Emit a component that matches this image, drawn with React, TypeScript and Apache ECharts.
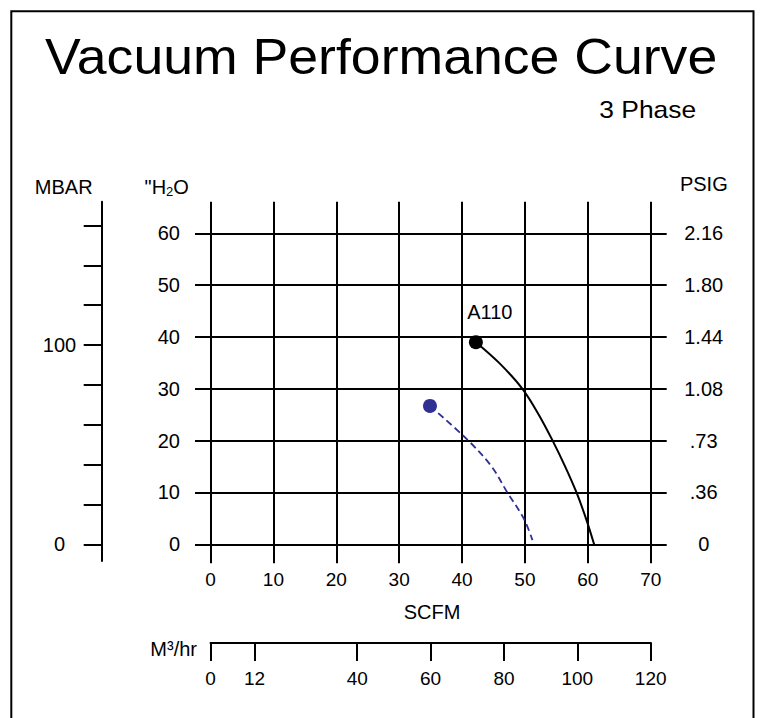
import React, { useEffect, useRef } from 'react';
import * as echarts from 'echarts';

// ---- data ----
const scfmTicks = [0, 10, 20, 30, 40, 50, 60, 70];
const inH2OTicks = [0, 10, 20, 30, 40, 50, 60];
const psigLabels = ['0', '.36', '.73', '1.08', '1.44', '1.80', '2.16'];
const mbarTicks = [0, 20, 40, 60, 80, 100, 120, 140, 160];
const mbarLabels = [0, 100];
const m3hrTicks = [0, 12, 40, 60, 80, 100, 120];

const a110Flow = [42.2, 45.9, 49.6, 52.2, 54.4, 56.4, 58.2, 59.7, 61.0];
const a110Vacuum = [39, 35, 30, 25, 20, 15, 10, 5, 0];
const blueFlow = [34.9, 41.0, 44.7, 47.2, 49.8, 51.2];
const blueVacuum = [26.7, 20, 15, 10, 5, 0.8];
const curveName = 'A110';

// ---- layout / style ----
const W = 767;
const H = 718;
const BLACK = '#000000';
const BLUE = '#2e3192';
const FONT = '"Liberation Sans", Arial, Helvetica, sans-serif';
const MBAR_MIN = -8.4;
const MBAR_MAX = 171.9;

const pairs = (xs: number[], ys: number[]) => xs.map((x, i) => [x, ys[i]]);

const lineStyle = { color: BLACK, width: 2 };

const option: any = {
  animation: false,
  backgroundColor: '#ffffff',
  textStyle: { fontFamily: FONT, color: BLACK },
  grid: [
    { left: 210.5, top: 233.3, width: 440.2, height: 311, containLabel: false },
    { left: 101.7, top: 201.7, width: 1, height: 359.3, containLabel: false },
    { left: 210.5, top: 641.5, width: 440.2, height: 1, containLabel: false },
  ],
  xAxis: [
    {
      type: 'value', gridIndex: 0, position: 'bottom',
      min: scfmTicks[0], max: scfmTicks[scfmTicks.length - 1], interval: scfmTicks[1] - scfmTicks[0],
      axisLine: { show: true, onZero: false, lineStyle },
      axisTick: { show: true, length: 19, lineStyle },
      axisLabel: { show: true, fontSize: 19, margin: 26, color: BLACK, fontFamily: FONT },
      splitLine: { show: true, lineStyle },
    },
    {
      type: 'value', gridIndex: 0, position: 'top',
      min: scfmTicks[0], max: scfmTicks[scfmTicks.length - 1], interval: scfmTicks[1] - scfmTicks[0],
      axisLine: { show: true, onZero: false, lineStyle },
      axisTick: { show: true, length: 31.6, lineStyle },
      axisLabel: { show: false },
      splitLine: { show: false },
    },
    { type: 'value', gridIndex: 1, show: false },
    {
      type: 'value', gridIndex: 2, position: 'bottom',
      min: m3hrTicks[0], max: m3hrTicks[m3hrTicks.length - 1],
      axisLine: { show: true, onZero: false, lineStyle },
      axisTick: { show: true, length: 18.5, lineStyle, customValues: m3hrTicks },
      axisLabel: { show: true, fontSize: 19, margin: 26.5, color: BLACK, fontFamily: FONT, customValues: m3hrTicks },
      splitLine: { show: false },
    },
  ],
  yAxis: [
    {
      type: 'value', gridIndex: 0, position: 'left',
      min: inH2OTicks[0], max: inH2OTicks[inH2OTicks.length - 1], interval: inH2OTicks[1] - inH2OTicks[0],
      axisLine: { show: true, onZero: false, lineStyle },
      axisTick: { show: true, length: 15.5, lineStyle },
      axisLabel: { show: true, fontSize: 20, margin: 30.5, color: BLACK, fontFamily: FONT },
      splitLine: { show: true, lineStyle },
    },
    {
      type: 'value', gridIndex: 0, position: 'right',
      min: inH2OTicks[0], max: inH2OTicks[inH2OTicks.length - 1], interval: inH2OTicks[1] - inH2OTicks[0],
      axisLine: { show: true, onZero: false, lineStyle },
      axisTick: { show: true, length: 16, lineStyle },
      axisLabel: {
        show: true, fontSize: 20, margin: 53, align: 'center', color: BLACK, fontFamily: FONT,
        formatter: (v: number) => psigLabels[inH2OTicks.indexOf(v)] ?? '',
      },
      splitLine: { show: false },
    },
    {
      type: 'value', gridIndex: 1, position: 'left',
      min: MBAR_MIN, max: MBAR_MAX,
      axisLine: { show: true, onZero: false, lineStyle },
      axisTick: { show: true, length: 18, lineStyle, customValues: mbarTicks },
      axisLabel: { show: true, fontSize: 20, margin: 42.2, align: 'center', color: BLACK, fontFamily: FONT, customValues: mbarLabels },
      splitLine: { show: false },
    },
    { type: 'value', gridIndex: 2, show: false },
  ],
  series: [
    {
      name: curveName,
      type: 'line',
      xAxisIndex: 0, yAxisIndex: 0,
      data: pairs(a110Flow, a110Vacuum),
      smooth: 0.35,
      showSymbol: false,
      symbol: 'none',
      lineStyle: { color: BLACK, width: 2, opacity: 1 },
      silent: true,
      z: 5,
    },
    {
      name: 'dashed',
      type: 'line',
      xAxisIndex: 0, yAxisIndex: 0,
      data: pairs(blueFlow, blueVacuum),
      smooth: 0.35,
      showSymbol: false,
      symbol: 'none',
      lineStyle: { color: BLUE, width: 1.8, type: [7, 4], opacity: 1 },
      silent: true,
      z: 5,
    },
    {
      name: 'A110 start',
      type: 'scatter',
      xAxisIndex: 0, yAxisIndex: 0,
      data: [[a110Flow[0], a110Vacuum[0]]],
      symbol: 'circle',
      symbolSize: 14,
      itemStyle: { color: BLACK, opacity: 1 },
      label: {
        show: true, position: 'top', distance: 13, offset: [14, 0],
        formatter: curveName, fontSize: 20, color: BLACK, opacity: 1, fontFamily: FONT,
      },
      silent: true,
      z: 6,
    },
    {
      name: 'dashed start',
      type: 'scatter',
      xAxisIndex: 0, yAxisIndex: 0,
      data: [[blueFlow[0], blueVacuum[0]]],
      symbol: 'circle',
      symbolSize: 14,
      itemStyle: { color: BLUE, opacity: 1 },
      silent: true,
      z: 6,
    },
  ],
  graphic: [
    {
      type: 'rect', z: 0,
      shape: { x: 11.3, y: 11.3, width: 742.2, height: 740 },
      style: { fill: 'none', stroke: BLACK, lineWidth: 2 },
      silent: true,
    },
    {
      type: 'text', x: 45, y: 56.5, scaleX: 1.072,
      style: {
        text: 'Vacuum Performance Curve', fontSize: 50, fontFamily: FONT, fill: BLACK,
        align: 'left', textAlign: 'left', verticalAlign: 'middle', textVerticalAlign: 'middle',
      },
    },
    {
      type: 'text', x: 599.3, y: 109.5, scaleX: 1.1,
      style: {
        text: '3 Phase', fontSize: 24, fontFamily: FONT, fill: BLACK,
        align: 'left', textAlign: 'left', verticalAlign: 'middle', textVerticalAlign: 'middle',
      },
    },
    {
      type: 'text', x: 63.7, y: 187,
      style: {
        text: 'MBAR', fontSize: 20, fontFamily: FONT, fill: BLACK,
        align: 'center', textAlign: 'center', verticalAlign: 'middle', textVerticalAlign: 'middle',
      },
    },
    {
      type: 'text', x: 166.7, y: 187,
      style: {
        text: '"H{sub|2}O', fontSize: 20, fontFamily: FONT, fill: BLACK,
        align: 'center', textAlign: 'center', verticalAlign: 'middle', textVerticalAlign: 'middle',
        rich: { sub: { fontSize: 13, fontFamily: FONT, fill: BLACK, verticalAlign: 'bottom', padding: [8, 0, 0, 0] } },
      },
    },
    {
      type: 'text', x: 703.8, y: 184,
      style: {
        text: 'PSIG', fontSize: 20, fontFamily: FONT, fill: BLACK,
        align: 'center', textAlign: 'center', verticalAlign: 'middle', textVerticalAlign: 'middle',
      },
    },
    {
      type: 'text', x: 432, y: 612,
      style: {
        text: 'SCFM', fontSize: 20, fontFamily: FONT, fill: BLACK,
        align: 'center', textAlign: 'center', verticalAlign: 'middle', textVerticalAlign: 'middle',
      },
    },
    {
      type: 'text', x: 197, y: 649,
      style: {
        text: 'M³/hr', fontSize: 20, fontFamily: FONT, fill: BLACK,
        align: 'right', textAlign: 'right', verticalAlign: 'middle', textVerticalAlign: 'middle',
      },
    },
  ],
};

export default function App() {
  const ref = useRef<HTMLDivElement>(null);
  useEffect(() => {
    if (!ref.current) return;
    const chart = echarts.init(ref.current, undefined, { renderer: 'svg' });
    chart.setOption(option);
    return () => chart.dispose();
  }, []);
  return (
    <div
      ref={ref}
      style={{ position: 'fixed', left: 0, top: 0, width: W, height: H, background: '#ffffff' }}
    />
  );
}
